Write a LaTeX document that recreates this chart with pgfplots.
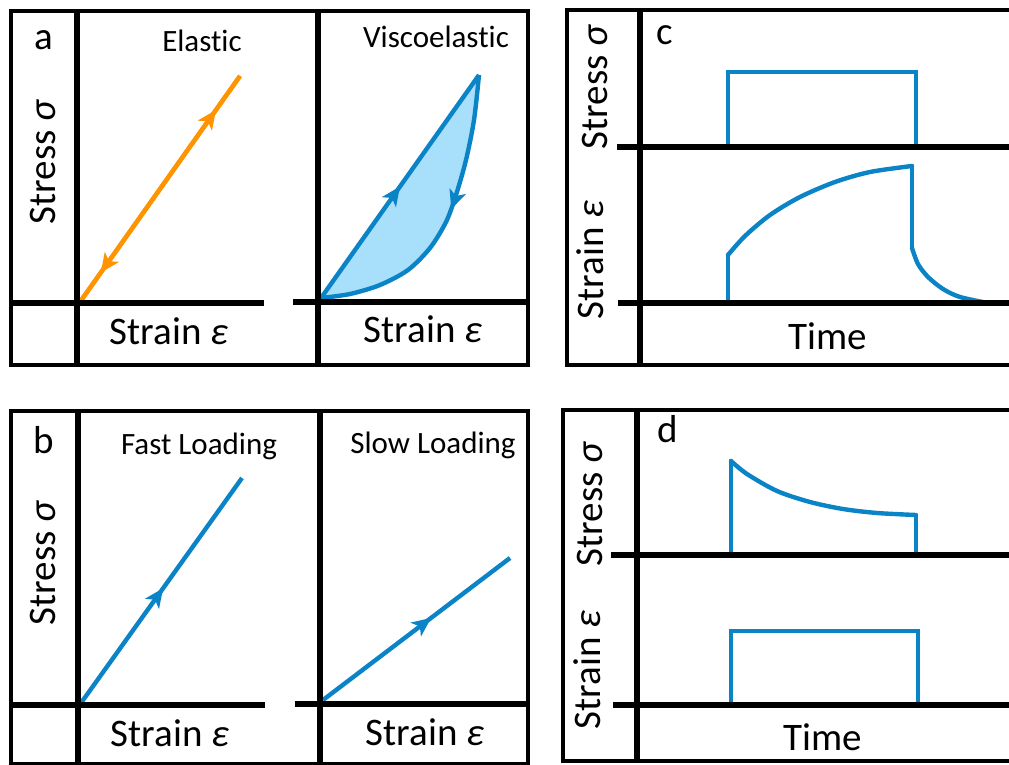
\documentclass[border=0pt]{standalone}
\usepackage{fontspec}
\setmainfont{Carlito}[Ligatures=NoCommon]
\usepackage{pgfplots}
\pgfplotsset{compat=1.18}
\usetikzlibrary{arrows.meta,decorations.markings}

\definecolor{lineblue}{HTML}{0A84C6}
\definecolor{fillblue}{HTML}{A8DFFA}
\definecolor{elorange}{HTML}{FF9400}

\newcommand{\lab}{\fontsize{19.5pt}{22pt}\selectfont}
\newcommand{\ttl}{\fontsize{15.5pt}{18pt}\selectfont}

\tikzset{
  frame/.style={black, line width=2pt},
  thick axis/.style={black, line width=3.3pt},
  head/.style={-, postaction={decorate}, decoration={markings,
      mark=at position #1 with {\arrow{Stealth[length=9.5pt,width=8.5pt,inset=2.5pt]}}}},
}

\begin{document}
\begin{tikzpicture}
\begin{axis}[
  name=ax, scale only axis, width=504.5pt, height=382.5pt,
  xmin=0, xmax=1009, ymin=0, ymax=765, y dir=reverse,
  hide axis, clip=false,
  every axis plot/.append style={line join=miter},
]
% ---- panel a: elastic ----
\addplot[elorange, line width=2.2pt, head=0.85] coordinates {(80,302) (240,76)};
\addplot[elorange, line width=2.2pt, head=0.87] coordinates {(240,76) (80,302)};
% ---- panel a: viscoelastic hysteresis loop ----
\addplot[fill=fillblue, draw=none, smooth] coordinates {
  (479,75) (474,120) (466,160) (456,195) (446,222) (430,248) (408,270)
  (380,285) (350,294) (321,298)} -- cycle;
\addplot[lineblue, line width=2.2pt, head=0.5] coordinates {(321,298) (479,75)};
\addplot[lineblue, line width=2.2pt, smooth, head=0.45] coordinates {
  (479,75) (474,120) (466,160) (456,195) (446,222) (430,248) (408,270)
  (380,285) (350,294) (321,298)};
% ---- panel b: loading rates ----
\addplot[lineblue, line width=2.2pt, head=0.51] coordinates {(81,703) (242,478)};
\addplot[lineblue, line width=2.2pt, head=0.58] coordinates {(323,700) (510,558)};
% ---- panel c: creep ----
\addplot[lineblue, line width=2pt] coordinates {(728,147) (728,72) (916,72) (916,147)};
\addplot[lineblue, line width=2.2pt, line cap=round] coordinates {(728,303) (728,255)};
\addplot[lineblue, line width=2.2pt, smooth, line cap=round] coordinates {
  (728,255) (745,236) (770,215) (800,197) (835,182) (870,172) (912,166)};
\addplot[lineblue, line width=2.2pt, line cap=round] coordinates {(912,166) (912,248)};
\addplot[lineblue, line width=2.2pt, smooth, line cap=round] coordinates {
  (912,248) (918,264) (928,277) (943,289) (960,297) (988,303)};
% ---- panel d: stress relaxation ----
\addplot[lineblue, line width=2.2pt, line cap=round] coordinates {(731,555) (731,461)};
\addplot[lineblue, line width=2.2pt, smooth, line cap=round] coordinates {
  (731,461) (747,474) (777,491) (810,502) (843,509) (877,513) (916,515)};
\addplot[lineblue, line width=2pt] coordinates {(916,515) (916,555)};
\addplot[lineblue, line width=2pt] coordinates {(731,707) (731,631) (918,631) (918,707)};

% ---- frames ----
\draw[frame] (axis cs:11,11) rectangle (axis cs:528,365);
\draw[frame] (axis cs:11,411) rectangle (axis cs:528,764);
\draw[frame] (axis cs:1009,10) -- (axis cs:567,10) -- (axis cs:567,365) -- (axis cs:1009,365);
\draw[frame] (axis cs:1009,410) -- (axis cs:563,410) -- (axis cs:563,761) -- (axis cs:1009,761);
% ---- axis lines ----
\draw[thick axis] (axis cs:77,11) -- (axis cs:77,365);
\draw[thick axis] (axis cs:11,303) -- (axis cs:264,303);
\draw[thick axis] (axis cs:318,11) -- (axis cs:318,365);
\draw[thick axis] (axis cs:293,302) -- (axis cs:528,302);
\draw[thick axis] (axis cs:78,411) -- (axis cs:78,764);
\draw[thick axis] (axis cs:11,705) -- (axis cs:265,705);
\draw[thick axis] (axis cs:320,411) -- (axis cs:320,764);
\draw[thick axis] (axis cs:295,704) -- (axis cs:528,704);
\draw[thick axis] (axis cs:640,10) -- (axis cs:640,365);
\draw[thick axis] (axis cs:617,147) -- (axis cs:1009,147);
\draw[thick axis] (axis cs:618,303) -- (axis cs:1009,303);
\draw[thick axis] (axis cs:637,410) -- (axis cs:637,761);
\draw[thick axis] (axis cs:611,555) -- (axis cs:1009,555);
\draw[thick axis] (axis cs:613,705) -- (axis cs:1009,705);

% ---- texts ----
\node[anchor=base, font=\lab] at (axis cs:44,50) {a};
\node[anchor=base, font=\lab] at (axis cs:44,453) {b};
\node[anchor=base, font=\lab] at (axis cs:665,45) {c};
\node[anchor=base, font=\lab] at (axis cs:668,443) {d};
\node[anchor=base, font=\ttl] at (axis cs:202,52) {Elast\kern0pt ic};
\node[anchor=base, font=\ttl] at (axis cs:436,48) {Viscoelast\kern0pt ic};
\node[anchor=base, font=\ttl] at (axis cs:199,455) {Fast Loading};
\node[anchor=base, font=\ttl] at (axis cs:433,453) {Slow Loading};
\node[anchor=base, font=\lab] at (axis cs:169,345) {Strain \textit{ε}};
\node[anchor=base, font=\lab] at (axis cs:423,343) {Strain \textit{ε}};
\node[anchor=base, font=\lab] at (axis cs:170,747) {Strain \textit{ε}};
\node[anchor=base, font=\lab] at (axis cs:425,745) {Strain \textit{ε}};
\node[anchor=base, font=\lab] at (axis cs:828,350) {Time};
\node[anchor=base, font=\lab] at (axis cs:823,750) {Time};
\node[anchor=base, rotate=90, font=\lab] at (axis cs:55,162) {Stress \textit{σ}};
\node[anchor=base, rotate=90, font=\lab] at (axis cs:55,563) {Stress \textit{σ}};
\node[anchor=base, rotate=90, font=\lab] at (axis cs:607,87) {Stress \textit{σ}};
\node[anchor=base, rotate=90, font=\lab] at (axis cs:603,260) {Strain \textit{ε}};
\node[anchor=base, rotate=90, font=\lab] at (axis cs:602,504) {Stress \textit{σ}};
\node[anchor=base, rotate=90, font=\lab] at (axis cs:600,670) {Strain \textit{ε}};
\end{axis}
\pgfresetboundingbox
\useasboundingbox (ax.south west) rectangle (ax.north east);
\end{tikzpicture}
\end{document}
